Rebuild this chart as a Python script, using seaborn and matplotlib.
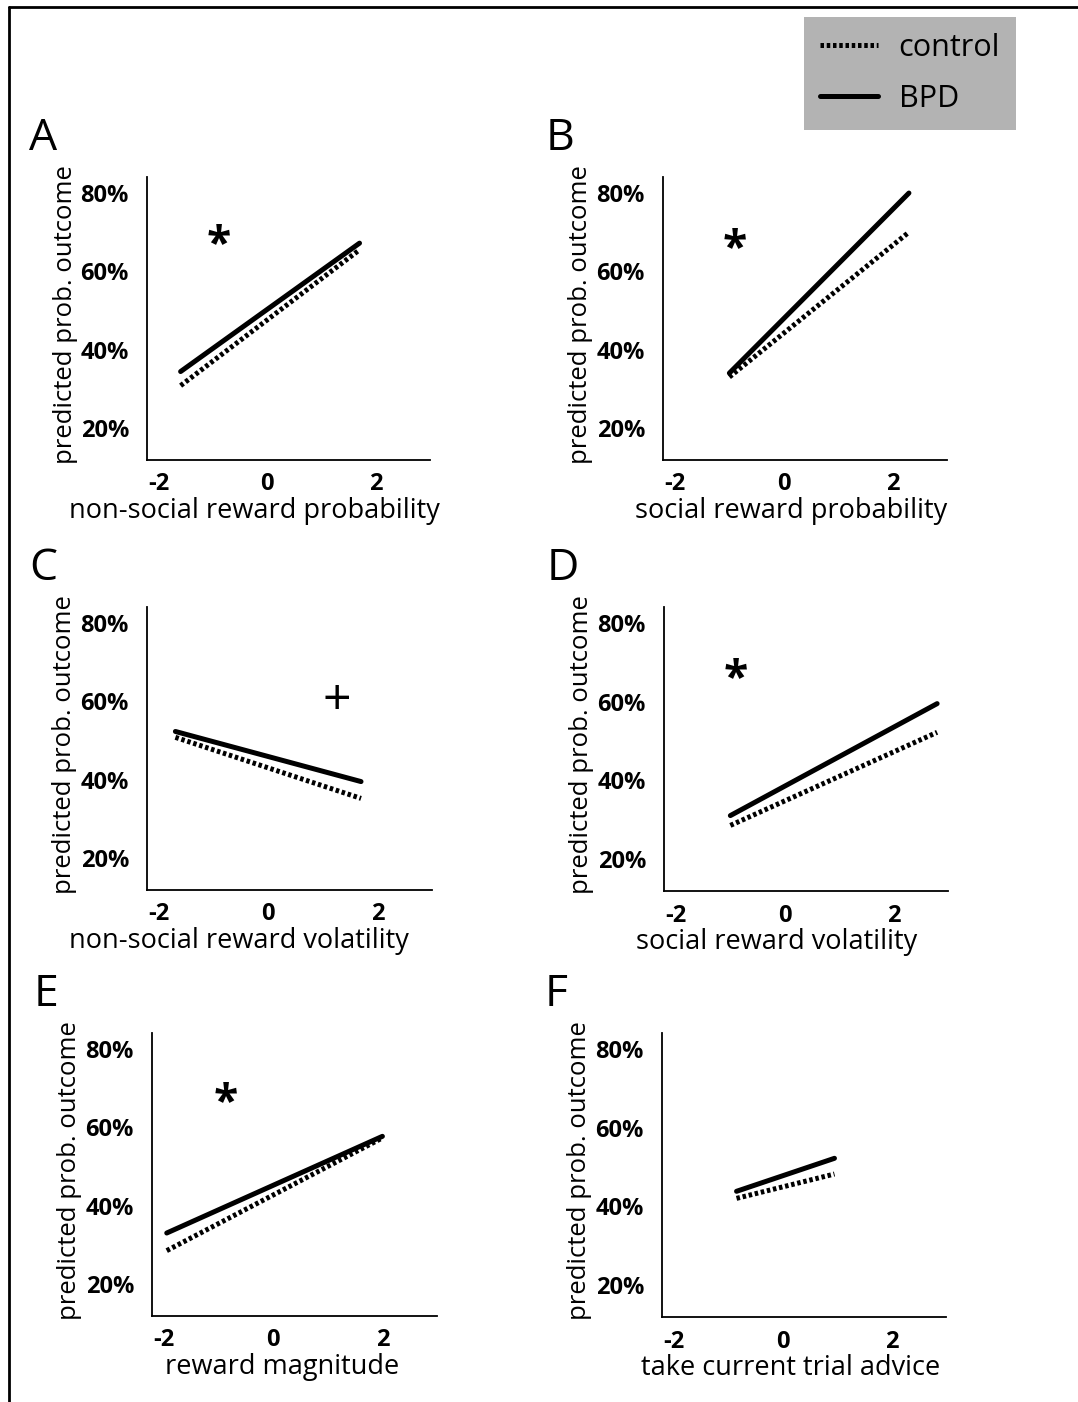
import numpy as np
import pandas as pd
import matplotlib
matplotlib.use("Agg")
import matplotlib.pyplot as plt
from matplotlib.lines import Line2D
import seaborn as sns

# ---------------- data ----------------
panels = ["A", "B", "C", "D", "E", "F"]
xlabels = ["non-social reward probability", "social reward probability",
           "non-social reward volatility", "social reward volatility",
           "reward magnitude", "take current trial advice"]
x_start = [-1.6, -1.0, -1.7, -1.0, -1.95, -0.85]
x_end = [1.7, 2.3, 1.7, 2.8, 2.0, 0.95]
bpd_start = [34.4, 34.0, 52.3, 31.0, 33.0, 43.8]
bpd_end = [67.2, 80.0, 39.5, 59.5, 57.7, 52.2]
ctrl_start = [30.8, 33.0, 50.8, 28.5, 28.5, 42.0]
ctrl_end = [65.5, 70.0, 35.2, 52.2, 57.3, 48.2]
sig_marks = ["*", "*", "+", "*", "*", ""]
sig_x = [-0.9, -0.9, 1.26, -0.9, -0.87, 0.0]
sig_y = [69.5, 68.5, 61.3, 68.5, 69.0, 0.0]
xticks = [-2, 0, 2]
yticks = [20, 40, 60, 80]
ytick_labels = ["20%", "40%", "60%", "80%"]
groups = ["control", "BPD"]
ylabel = "predicted prob. outcome"

# ---------------- style ----------------
sns.set_theme(style="white")
plt.rcParams["font.family"] = ["Open Sans", "DejaVu Sans"]
plt.rcParams["text.color"] = "black"
plt.rcParams["axes.labelcolor"] = "black"
plt.rcParams["xtick.color"] = "black"
plt.rcParams["ytick.color"] = "black"

W, H = 1078, 1402
fig = plt.figure(figsize=(W / 100, H / 100), dpi=100)
fig.patch.set_facecolor("white")

# axes boxes in pixels: left, right, top, bottom
boxes = [(147, 430, 177, 460), (663, 947, 177, 460),
         (147, 432, 607, 890), (664, 948, 607, 891),
         (152, 437, 1033, 1316), (662, 946, 1033, 1317)]
xlabel_centers = [254, 791, 239, 777, 282, 791]

palette = {"control": "black", "BPD": "black"}
dashes = {"control": (0.7, 0.55), "BPD": ""}

for i, p in enumerate(panels):
    l, r, t, b = boxes[i]
    ax = fig.add_axes([l / W, 1 - b / H, (r - l) / W, (b - t) / H])
    df = pd.DataFrame({
        "group": ["control", "control", "BPD", "BPD"],
        "x": [x_start[i], x_end[i], x_start[i], x_end[i]],
        "y": [ctrl_start[i], ctrl_end[i], bpd_start[i], bpd_end[i]],
    })
    sns.lineplot(data=df, x="x", y="y", hue="group", style="group",
                 hue_order=groups, style_order=groups, palette=palette,
                 dashes=dashes, linewidth=3.6, legend=False, ax=ax,
                 estimator=None, sort=False)
    ax.set_xlim(-2.22, 3.0)
    ax.set_ylim(11.8, 84.1)
    ax.set_xticks(xticks)
    ax.set_xticklabels([str(v) for v in xticks], fontsize=17, fontweight="bold")
    ax.set_yticks(yticks)
    ax.set_yticklabels(ytick_labels, fontsize=17, fontweight="bold")
    ax.tick_params(axis="y", length=0, pad=13)
    ax.tick_params(axis="x", length=0, pad=9)
    for s in ["top", "right"]:
        ax.spines[s].set_visible(False)
    for s in ["left", "bottom"]:
        ax.spines[s].set_linewidth(1.3)
        ax.spines[s].set_color("black")
    ax.set_facecolor("none")
    ax.set_ylabel(ylabel, fontsize=18.5)
    ax.yaxis.set_label_coords(-0.245, 0.515)
    ax.set_xlabel(xlabels[i], fontsize=19.5)
    ax.xaxis.set_label_coords((xlabel_centers[i] - l) / (r - l), -0.13)
    if sig_marks[i] == "*":
        ax.annotate("*", (sig_x[i], sig_y[i]), xytext=(0, -4),
                    textcoords="offset points", fontsize=32, fontweight="bold",
                    ha="center", va="center_baseline", color="black")
    elif sig_marks[i] == "+":
        ax.annotate("+", (sig_x[i], sig_y[i]), xytext=(0, 0),
                    textcoords="offset points", fontsize=36,
                    ha="center", va="center_baseline", color="black")
    # panel letter
    fig.text((l - 118) / W if i % 2 == 0 else (l - 117) / W, 1 - (t - 27) / H, p,
             fontsize=32, fontweight="normal", ha="left", va="baseline")

# legend
handles = [Line2D([], [], color="black", lw=3.6, dashes=(0.7, 0.55)),
           Line2D([], [], color="black", lw=3.6)]
leg = fig.legend(handles, groups, loc="upper left",
                 bbox_to_anchor=(804 / W, 1 - 17 / H), bbox_transform=fig.transFigure,
                 frameon=True, fancybox=False, facecolor="#b3b3b3", edgecolor="none",
                 framealpha=1, fontsize=22, handlelength=1.9, handletextpad=0.68,
                 labelspacing=0.68, borderpad=0.52, borderaxespad=0)

# outer frame lines (top and left)
fig.add_artist(Line2D([8.5 / W, 1.0], [1 - 6.5 / H, 1 - 6.5 / H],
                      transform=fig.transFigure, color="black", lw=2))
fig.add_artist(Line2D([8.5 / W, 8.5 / W], [0.0, 1 - 6.5 / H],
                      transform=fig.transFigure, color="black", lw=2))

fig.savefig("out.png", dpi=100)
